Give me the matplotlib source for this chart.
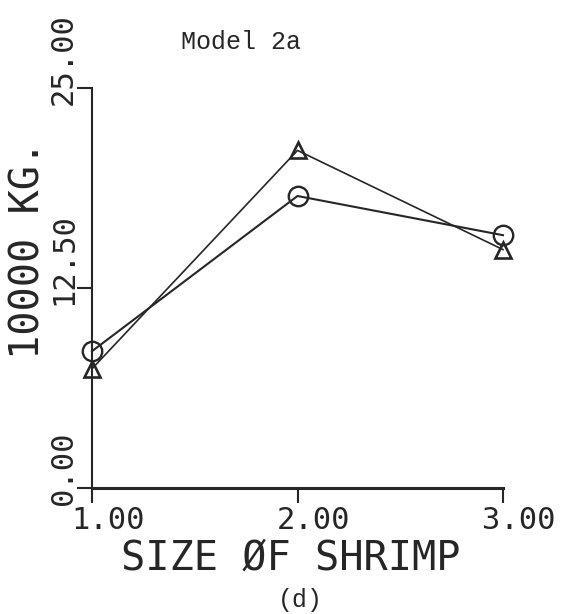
import matplotlib
matplotlib.use('Agg')
from matplotlib import pyplot as plt
from matplotlib import transforms as mtrans

# shrimp size classes and the two model series (10000 kg)
sizes    = [1.0, 2.0, 3.0]
circles  = [8.55, 18.25, 15.8]
triangle = [7.45, 21.1, 14.9]

xticks  = [1.0, 2.0, 3.0]
yticks  = [0.0, 12.5, 25.0]
xlabels = ['1.00', '2.00', '3.00']
ylabels = ['0.00', '12.50', '25.00']

ink = '#262626'
mono = 'DejaVu Sans Mono'
courier = 'Liberation Mono'

fig = plt.figure(figsize=(5.78, 6.14), dpi=100)
ax = fig.add_axes([92/578, 1 - 488/614, (503 - 92)/578, (488 - 88)/614])

ax.plot(sizes, circles, color=ink, lw=1.5, marker='o', ms=14, mfc='none',
        mec=ink, mew=1.7, clip_on=False)
ax.plot(sizes, triangle, color=ink, lw=1.2, marker='^', ms=12, mfc='none',
        mec=ink, mew=1.9, clip_on=False)

ax.set_xlim(1, 3)
ax.set_ylim(0, 25)
for s in ['top', 'right']:
    ax.spines[s].set_visible(False)
ax.spines['left'].set_linewidth(1.5)
ax.spines['bottom'].set_linewidth(2.2)
ax.spines['left'].set_color(ink)
ax.spines['bottom'].set_color(ink)

ax.set_xticks(xticks)
ax.set_yticks(yticks)
ax.set_xticklabels([])
ax.set_yticklabels([])
ax.tick_params(direction='out', length=11, width=1.5, color=ink)

# tick labels, placed like the plotter did
for x, lab in zip(xticks, xlabels):
    tr = ax.get_xaxis_transform() + mtrans.ScaledTranslation(16/100, -18/100, fig.dpi_scale_trans)
    ax.text(x, 0, lab, transform=tr, ha='center', va='top', fontsize=22,
            family=mono, color=ink)
for y, lab in zip(yticks, ylabels):
    tr = ax.get_yaxis_transform() + mtrans.ScaledTranslation(-14/100, -17/100, fig.dpi_scale_trans)
    ax.text(0, y, lab, transform=tr, rotation=90, rotation_mode='anchor',
            ha='left', va='bottom', fontsize=22, family=mono, color=ink)

fig.text(291/578, 1 - 570/614, 'SIZE ØF SHRIMP', ha='center', va='baseline',
         fontsize=29, family=mono, color=ink)
fig.text(29/578, 1 - 250/614, '10000 KG.', ha='center', va='center',
         rotation=90, fontsize=29, family=mono, color=ink)
fig.text(241/578, 1 - 42/614, 'Model 2a', ha='center', va='center',
         fontsize=18, family=courier, color=ink)
fig.text(300/578, 1 - 600/614, '(d)', ha='center', va='center',
         fontsize=18, family=courier, color=ink)

fig.savefig('out.png', dpi=100)
